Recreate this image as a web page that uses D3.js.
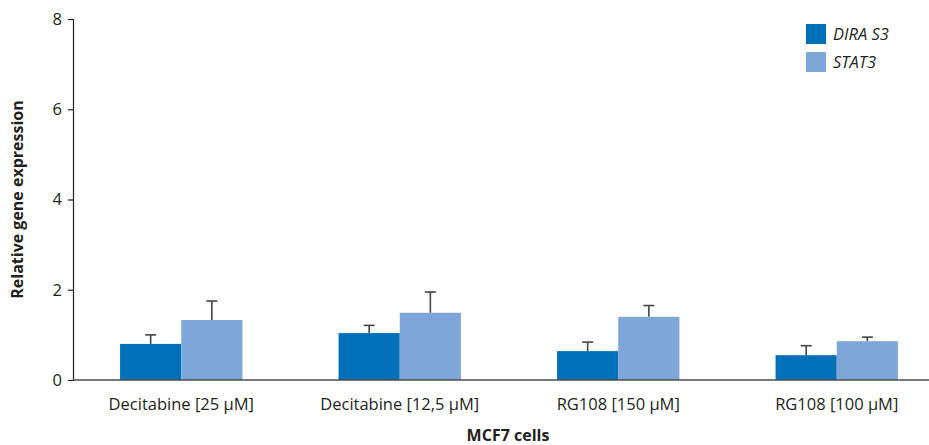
<!DOCTYPE html>
<html>
<head>
<meta charset="utf-8">
<script src="https://cdn.jsdelivr.net/npm/d3@7"></script>
<style>
  body { margin: 0; background: #fff; }
  svg text { font-family: "Open Sans", "Noto Sans", sans-serif; fill: #231f20; }
</style>
</head>
<body>
<div id="chart"></div>
<script>
const categories = ["Decitabine [25 \u00b5M]", "Decitabine [12,5 \u00b5M]", "RG108 [150 \u00b5M]", "RG108 [100 \u00b5M]"];
const seriesNames = ["DIRA S3", "STAT3"];
const diraValues = [0.80, 1.04, 0.64, 0.55];
const diraErrors = [0.20, 0.17, 0.20, 0.21];
const statValues = [1.33, 1.49, 1.40, 0.86];
const statErrors = [0.42, 0.46, 0.25, 0.09];
const yTicks = [0, 2, 4, 6, 8];

const width = 929, height = 445;
const margin = { top: 19, right: 0, bottom: 65, left: 73 };
const colors = ["#0070b8", "#7ea6d8"];

const svg = d3.select("#chart").append("svg")
  .attr("width", width)
  .attr("height", height);

const y = d3.scaleLinear()
  .domain([0, 8])
  .range([height - margin.bottom, margin.top]);

const x = d3.scaleBand()
  .domain(categories)
  .range([72, 946])
  .paddingInner(0.44)
  .paddingOuter(0.22);

const x1 = d3.scaleBand()
  .domain(seriesNames)
  .range([0, x.bandwidth()]);

// y axis
const yAxis = svg.append("g")
  .attr("transform", `translate(${margin.left},0)`)
  .call(d3.axisLeft(y).tickValues(yTicks).tickSize(5).tickPadding(6));
yAxis.select(".domain").attr("stroke", "#231f20").attr("stroke-width", 1.2);
yAxis.selectAll(".tick line").attr("stroke", "#231f20").attr("stroke-width", 1.2);
yAxis.selectAll(".tick text").style("font-size", "16.5px").attr("fill", "#231f20");

// bars
const data = categories.map((c, i) => ({
  cat: c,
  vals: [
    { s: seriesNames[0], v: diraValues[i], e: diraErrors[i] },
    { s: seriesNames[1], v: statValues[i], e: statErrors[i] }
  ]
}));

const groups = svg.selectAll(".grp")
  .data(data)
  .enter().append("g")
  .attr("class", "grp")
  .attr("transform", d => `translate(${x(d.cat)},0)`);

// error bars (upper only)
groups.selectAll(".err")
  .data(d => d.vals)
  .enter().append("g")
  .attr("class", "err")
  .each(function(d) {
    const g = d3.select(this);
    const cx = x1(d.s) + x1.bandwidth() / 2;
    g.append("line")
      .attr("x1", cx).attr("x2", cx)
      .attr("y1", y(d.v)).attr("y2", y(d.v + d.e))
      .attr("stroke", "#444").attr("stroke-width", 1.6);
    g.append("line")
      .attr("x1", cx - 5.5).attr("x2", cx + 5.5)
      .attr("y1", y(d.v + d.e)).attr("y2", y(d.v + d.e))
      .attr("stroke", "#444").attr("stroke-width", 1.6);
  });

groups.selectAll("rect")
  .data(d => d.vals)
  .enter().append("rect")
  .attr("x", d => x1(d.s))
  .attr("y", d => y(d.v))
  .attr("width", x1.bandwidth())
  .attr("height", d => y(0) - y(d.v))
  .attr("fill", (d, i) => colors[i]);

// x axis line
svg.append("line")
  .attr("x1", margin.left).attr("x2", width)
  .attr("y1", y(0)).attr("y2", y(0))
  .attr("stroke", "#4d4d4d").attr("stroke-width", 1.3);

// category labels
svg.selectAll(".cat")
  .data(categories)
  .enter().append("text")
  .attr("class", "cat")
  .attr("x", d => x(d) + x.bandwidth() / 2)
  .attr("y", 410)
  .attr("text-anchor", "middle")
  .style("font-size", "16.5px")
  .text(d => d);

// axis titles
svg.append("text")
  .attr("x", 508)
  .attr("y", 441)
  .attr("text-anchor", "middle")
  .style("font-size", "16px")
  .style("font-weight", "bold")
  .text("MCF7 cells");

svg.append("text")
  .attr("transform", `translate(23,${(y(0) + y(8)) / 2}) rotate(-90)`)
  .attr("text-anchor", "middle")
  .style("font-size", "16px")
  .style("font-weight", "bold")
  .text("Relative gene expression");

// legend
const legend = svg.append("g").attr("transform", "translate(806,24)");
seriesNames.forEach((s, i) => {
  const row = legend.append("g").attr("transform", `translate(0,${i * 28})`);
  row.append("rect").attr("width", 20).attr("height", 20).attr("fill", colors[i]);
  row.append("text")
    .attr("x", 27).attr("y", 16)
    .style("font-size", "16.5px")
    .style("font-style", "italic")
    .text(s);
});
</script>
</body>
</html>
